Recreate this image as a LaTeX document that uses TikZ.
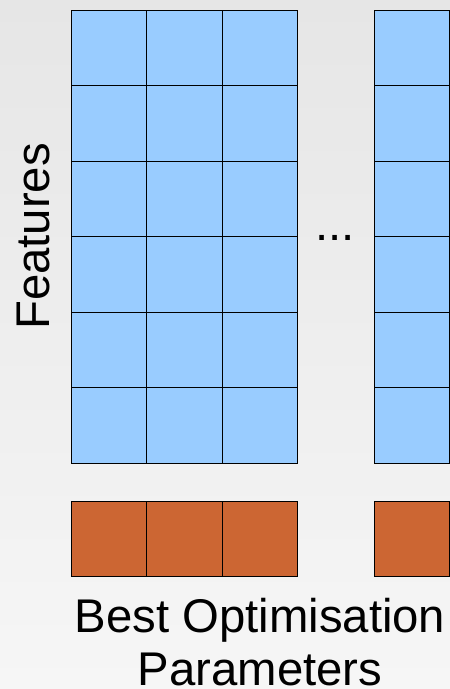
\documentclass[tikz,border=0pt]{standalone}
\usepackage{fontspec}
\setmainfont{Liberation Sans}
\usetikzlibrary{positioning}
\definecolor{cellblue}{HTML}{99CCFF}
\definecolor{paramorange}{HTML}{CC6633}
\definecolor{bgtop}{HTML}{E6E6E6}
\definecolor{bgbottom}{HTML}{F6F6F6}
\tikzset{
  cell/.style={draw=black, line width=0.8pt, fill=cellblue, minimum size=75.6pt, inner sep=0pt, outer sep=0pt, anchor=north west},
  param/.style={cell, fill=paramorange},
  bigtext/.style={font=\fontsize{47.3}{52.3}\selectfont, inner sep=0pt}
}
\begin{document}
\begin{tikzpicture}[x=1pt,y=-1pt]
  % background
  \shade[top color=bgtop, bottom color=bgbottom] (0,0) rectangle (450,689);
  \useasboundingbox (0,0) rectangle (450,689);
  % feature grid and parameter row
  \foreach \c in {0,1,2}{
    \foreach \r in {0,...,5}
      \node[cell] (f-\r-\c) at ({71+75.6*\c},{10+75.5*\r}) {};
    \node[param] (p-\c) at ({71+75.6*\c},501) {};
  }
  \foreach \r in {0,...,5}
    \node[cell] (f-\r-last) at (374,{10+75.5*\r}) {};
  \node[param] (p-last) at (374,501) {};
  % labels
  \node[bigtext, anchor=base] (dots) at (335,240) {...};
  \node[bigtext, rotate=90, anchor=base] (features) at (49,236.5) {Features};
  \node[bigtext, align=center, anchor=base] (best) at (260,685) {Best Optimisation\\Parameters};
\end{tikzpicture}
\end{document}
